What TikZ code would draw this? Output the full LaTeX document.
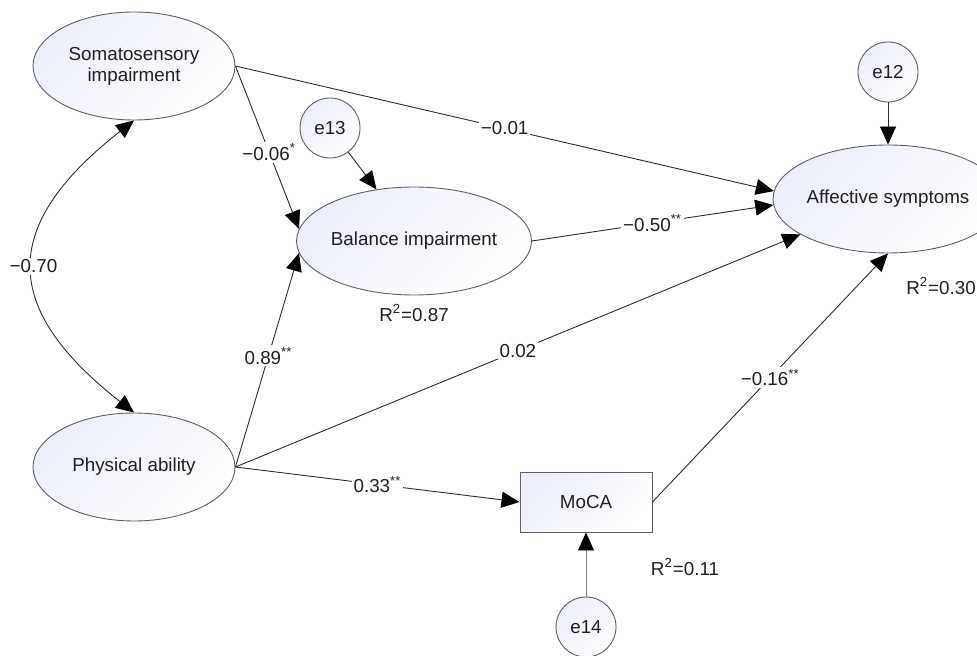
\documentclass[tikz,border=0pt]{standalone}
\usepackage{fontspec}
\setmainfont{Liberation Sans}
\usepackage{tikz}
\usetikzlibrary{shapes.geometric,arrows.meta,positioning}
\usepackage{xcolor}
\definecolor{inkgray}{RGB}{35,31,32}
\definecolor{linegray}{RGB}{45,45,45}
\definecolor{bordergray}{RGB}{95,95,95}
\definecolor{shadeblue}{RGB}{236,238,249}

\begin{document}
\begin{tikzpicture}[x=0.5pt,y=-0.5pt,
        font=\fontsize{9.4}{10.6}\selectfont,text=inkgray,
        >={Triangle[length=9pt,width=8pt,color=black]},
        latent/.style={ellipse,draw=bordergray,line width=0.45pt,top color=shadeblue,bottom color=white,shading angle=45,minimum width=101pt,minimum height=54pt,inner sep=0pt,align=center},
        errvar/.style={circle,draw=bordergray,line width=0.45pt,top color=shadeblue,bottom color=white,shading angle=45,minimum size=30pt,inner sep=0pt},
        observed/.style={rectangle,draw=bordergray,line width=0.45pt,top color=shadeblue,bottom color=white,shading angle=45,minimum width=66pt,minimum height=30pt,inner sep=0pt},
        effect/.style={->,draw=linegray,line width=0.45pt},
        coef/.style={fill=white,inner sep=1pt}]
        \useasboundingbox (0,0) rectangle (977,656);

        % Latent variables
        \node[latent] (somato) at (134,66) {Somatosensory\\impairment};
        \node[latent] (phys) at (134,467) {Physical ability};
        \node[latent] (balance) at (414,241) {Balance impairment};
        \node[latent] (affect) at (888,199) {Affective symptoms};

        % Observed variable
        \node[observed] (moca) at (586,502) {MoCA};

        % Error terms
        \node[errvar] (e12) at (888,72) {e12};
        \node[errvar] (e13) at (330,128) {e13};
        \node[errvar] (e14) at (586,627) {e14};

        % Explained variance
        \node (rbal) at (414,313) {R\textsuperscript{2}=0.87};
        \node (raff) at (941,286) {R\textsuperscript{2}=0.30};
        \node (rmoca) at (685,567) {R\textsuperscript{2}=0.11};

        % Paths
        \draw[effect] (somato.east) -- node[coef,pos=0.5] {−0.01} (affect.176);
        \draw[effect] (somato.east) -- node[coef,pos=0.53] {−0.06\textsuperscript{*}} (balance.174);
        \draw[effect] (phys.east) -- node[coef,pos=0.52] {0.89\textsuperscript{**}} (balance.186);
        \draw[effect] (phys.east) -- node[coef] {0.02} (affect.202);
        \draw[effect] (phys.east) -- node[coef] {0.33\textsuperscript{**}} (moca.west);
        \draw[effect] (balance.east) -- node[coef] {−0.50\textsuperscript{**}} (affect.183);
        \draw[effect] (moca.east) -- node[coef] {−0.16\textsuperscript{**}} (affect.south);

        % Error paths
        \draw[effect] (e13) -- (balance.126);
        \draw[effect] (e12) -- (affect);
        \draw[effect,draw=gray] (e14) -- (moca);

        % Covariance
        \draw[<->,draw=linegray,line width=0.45pt] (somato.south) .. controls +(-134,105) and +(-134,-105) .. node[coef] {−0.70} (phys.north);
    \end{tikzpicture}
\end{document}
